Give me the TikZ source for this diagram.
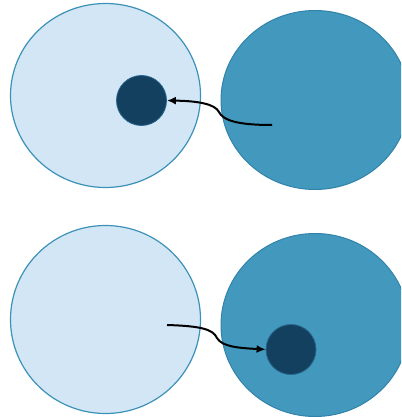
\documentclass[tikz,border=0pt]{standalone}
\usetikzlibrary{shapes.geometric,arrows.meta}
\definecolor{lightfill}{RGB}{210,230,245}
\definecolor{lightedge}{RGB}{60,145,185}
\definecolor{darkfill}{RGB}{66,153,189}
\definecolor{darkedge}{RGB}{50,130,170}
\definecolor{corefill}{RGB}{20,64,96}
\definecolor{coreedge}{RGB}{40,100,140}
\tikzset{
  cellA/.style={ellipse, inner sep=0pt, fill=lightfill, draw=lightedge, line width=1.2pt},
  cellB/.style={ellipse, inner sep=0pt, fill=darkfill, draw=darkedge, line width=1pt},
  core/.style={circle, inner sep=0pt, fill=corefill, draw=coreedge, line width=0.8pt, minimum width=50pt, minimum height=49pt},
  transfer/.style={line width=2pt, black, -{Latex[length=9pt,width=8pt]}}
}
\begin{document}
\begin{tikzpicture}[x=1pt,y=-1pt]
\useasboundingbox (0,0) rectangle (401,417);
\clip (0,0) rectangle (401,417);
% top row
\node[cellA, minimum width=190pt, minimum height=184pt] (tl) at (105.5,95.5) {};
\node[cellB, minimum width=188pt, minimum height=179pt] (tr) at (315,100) {};
\node[core] (tc) at (141.5,100.5) {};
\coordinate (ts) at (272,125);
\coordinate (tm) at (219,112);
\draw[transfer] (ts) .. controls (236,125) and (223,120) .. (tm)
  .. controls (215,104) and (198,101) .. (tc.east);
% bottom row
\node[cellA, minimum width=190pt, minimum height=188pt] (bl) at (105.5,319.5) {};
\node[cellB, minimum width=188pt, minimum height=183pt] (br) at (315,325) {};
\node[core] (bc) at (291,349.5) {};
\coordinate (bs) at (167,325);
\coordinate (bm) at (217,338);
\draw[transfer] (bs) .. controls (200,326) and (213,329) .. (bm)
  .. controls (222,347) and (240,348) .. (bc.west);
\end{tikzpicture}
\end{document}
